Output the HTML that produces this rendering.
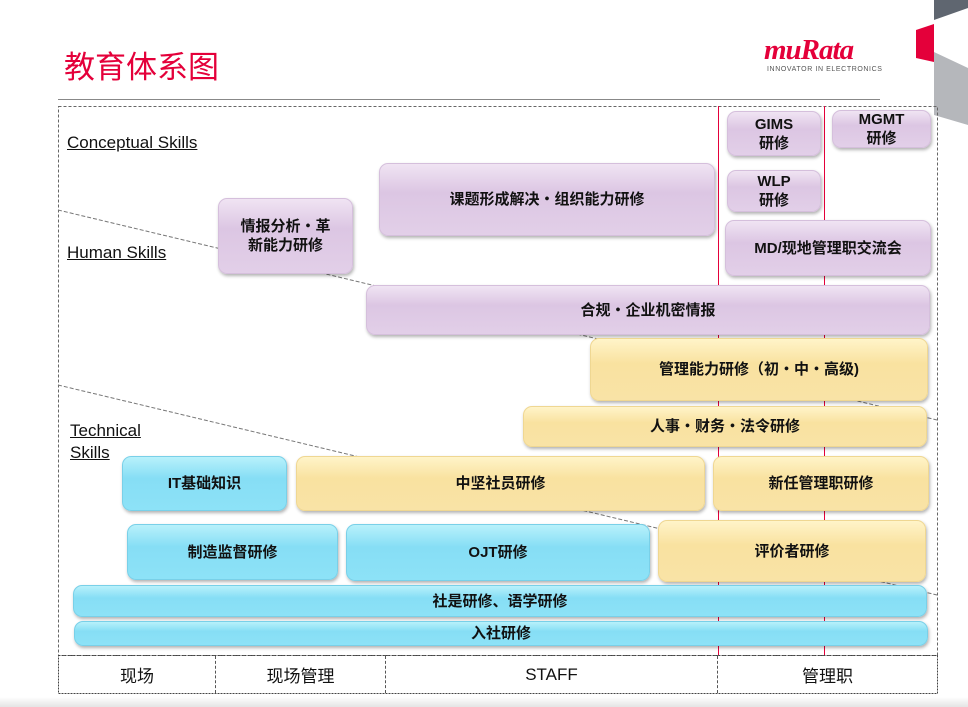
<!DOCTYPE html>
<html><head><meta charset="utf-8"><style>
*{margin:0;padding:0;box-sizing:border-box}
body{width:968px;height:707px;background:#fff;position:relative;overflow:hidden;font-family:"Liberation Sans","Noto Sans CJK SC",sans-serif}
.a{position:absolute}
.b{position:absolute;border-radius:9px;display:flex;align-items:center;justify-content:center;text-align:center;font-weight:bold;font-size:15px;color:#111;line-height:19px;box-shadow:1px 2px 3px rgba(0,0,0,.3)}
.p{background:linear-gradient(#f0e4f3,#dcc6e3 40%,#e2cfe8);border:1px solid #d5bfdc}
.y{background:linear-gradient(#fff4c9,#f9e2a0 40%,#f9e3a6);border:1px solid #efd792}
.c{background:linear-gradient(#b8f1fb,#86def5 40%,#8de2f7);border:1px solid #79d0e8}
.lbl{position:absolute;font-size:17px;text-decoration:underline;color:#111;line-height:22px}
.t{position:absolute;top:656px;height:37px;display:flex;align-items:center;justify-content:center;font-size:17px;color:#111;border-right:1px dashed #555}
</style></head><body>
<div class="a" style="left:0;top:697px;width:968px;height:10px;background:linear-gradient(#fff,#e4e4e4)"></div>
<div class="a" style="left:64px;top:42px;font-size:31px;color:#e4003a;font-family:'Noto Sans CJK SC',sans-serif">教育体系图</div>
<div class="a" style="left:58px;top:99px;width:822px;height:1px;background:#888"></div>
<div class="a" style="left:764px;top:34px;font-size:29px;font-style:italic;font-weight:bold;color:#e4003a;font-family:'Liberation Serif',serif;letter-spacing:-1px">muRata</div>
<div class="a" style="left:767px;top:66px;font-size:7px;color:#555;letter-spacing:.6px">INNOVATOR IN ELECTRONICS</div>
<svg class="a" style="left:0;top:0" width="968" height="707">
<polygon points="934,0 968,0 968,8 934,20" fill="#5f6670"/>
<polygon points="916,30 934,24 934,62 916,58" fill="#e4003a"/>
<polygon points="934,52 968,68 968,125 934,115" fill="#b5b7bb"/>
<rect x="58.5" y="106.5" width="879" height="549" fill="none" stroke="#666" stroke-dasharray="3,2"/>
<rect x="58.5" y="655.5" width="879" height="38" fill="none" stroke="#444" stroke-dasharray="2,1"/>
<line x1="58" y1="210" x2="937" y2="420" stroke="#777" stroke-dasharray="4,2"/>
<line x1="58" y1="385" x2="937" y2="595" stroke="#777" stroke-dasharray="4,2"/>
<line x1="718.5" y1="106" x2="718.5" y2="655" stroke="#e4003a"/>
<line x1="824.5" y1="106" x2="824.5" y2="655" stroke="#e4003a"/>
</svg>
<div class="lbl" style="left:67px;top:132px">Conceptual Skills</div>
<div class="lbl" style="left:67px;top:242px">Human Skills</div>
<div class="lbl" style="left:70px;top:420px">Technical<br>Skills</div>
<div class="b p" style="left:727px;top:111px;width:94px;height:45px">GIMS<br>研修</div>
<div class="b p" style="left:832px;top:110px;width:99px;height:38px">MGMT<br>研修</div>
<div class="b p" style="left:727px;top:170px;width:94px;height:42px">WLP<br>研修</div>
<div class="b p" style="left:379px;top:163px;width:336px;height:73px">课题形成解决・组织能力研修</div>
<div class="b p" style="left:218px;top:198px;width:135px;height:76px">情报分析・革<br>新能力研修</div>
<div class="b p" style="left:725px;top:220px;width:206px;height:56px">MD/现地管理职交流会</div>
<div class="b p" style="left:366px;top:285px;width:564px;height:50px">合规・企业机密情报</div>
<div class="b y" style="left:590px;top:338px;width:338px;height:63px">管理能力研修（初・中・高级)</div>
<div class="b y" style="left:523px;top:406px;width:404px;height:41px">人事・财务・法令研修</div>
<div class="b c" style="left:122px;top:456px;width:165px;height:55px">IT基础知识</div>
<div class="b y" style="left:296px;top:456px;width:409px;height:55px">中坚社员研修</div>
<div class="b y" style="left:713px;top:456px;width:216px;height:55px">新任管理职研修</div>
<div class="b c" style="left:127px;top:524px;width:211px;height:56px">制造监督研修</div>
<div class="b c" style="left:346px;top:524px;width:304px;height:57px">OJT研修</div>
<div class="b y" style="left:658px;top:520px;width:268px;height:62px">评价者研修</div>
<div class="b c" style="left:73px;top:585px;width:854px;height:32px">社是研修、语学研修</div>
<div class="b c" style="left:74px;top:621px;width:854px;height:25px">入社研修</div>
<div class="t" style="left:59px;width:157px">现场</div>
<div class="t" style="left:216px;width:170px">现场管理</div>
<div class="t" style="left:386px;width:332px">STAFF</div>
<div class="t" style="left:718px;width:219px;border-right:none">管理职</div>
</body></html>
